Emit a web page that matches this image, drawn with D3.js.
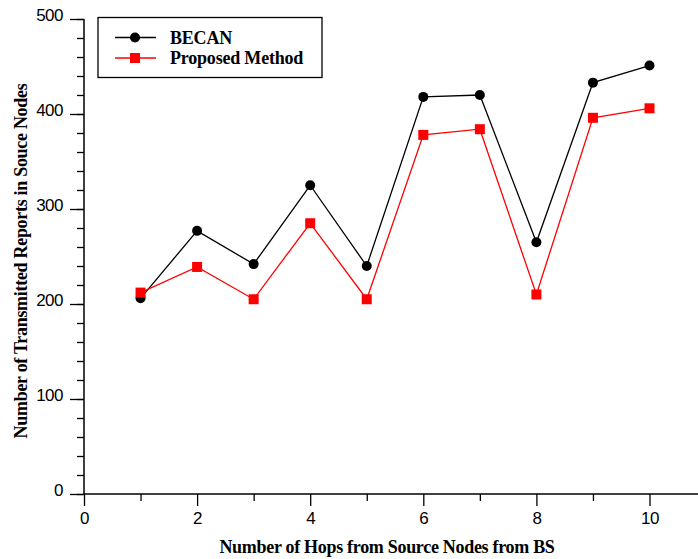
<!DOCTYPE html>
<html lang="en">
<head>
<meta charset="utf-8">
<script src="https://cdn.jsdelivr.net/npm/d3@7"></script>
<style>
  body { margin: 0; background: #fff; }
  svg { display: block; font-family: "Liberation Serif", "DejaVu Serif", serif; }
  .tick text { font-size: 17px; fill: #000; letter-spacing: -0.5px; }
  .axis-title { font-size: 18px; font-weight: bold; letter-spacing: -0.3px; }
  .legend text { font-size: 18px; font-weight: bold; letter-spacing: -0.2px; }
</style>
</head>
<body>
<script>
// data
var hops = [1, 2, 3, 4, 5, 6, 7, 8, 9, 10];
var becan = [206, 277, 242, 325, 240, 418, 420, 265, 433, 451];
var proposed = [212, 239, 205, 285, 205, 378, 384, 210, 396, 406];
var seriesNames = ["BECAN", "Proposed Method"];
var xTickVals = [0, 2, 4, 6, 8, 10];
var yTickVals = [0, 100, 200, 300, 400, 500];

var w = 698, h = 559;
var plotLeft = 84, plotBottom = 494, plotTop = 19;

var svg = d3.select("body").append("svg")
    .attr("width", w)
    .attr("height", h);

var x = d3.scaleLinear().domain([0, 10]).range([plotLeft, 649.5]);
var y = d3.scaleLinear().domain([0, 500]).range([plotBottom, plotTop]);

// x axis line runs to the right edge
svg.append("line")
    .attr("x1", plotLeft).attr("x2", w)
    .attr("y1", plotBottom).attr("y2", plotBottom)
    .attr("stroke", "#000").attr("stroke-width", 1.5);

// minor x ticks
svg.append("g")
    .attr("transform", "translate(0," + plotBottom + ")")
    .call(d3.axisBottom(x).tickValues(d3.range(1, 11, 2)).tickSize(7).tickFormat(""))
    .call(function(g) { g.select(".domain").remove(); })
    .selectAll("line").attr("stroke-width", 1.3);

var xAxis = svg.append("g")
    .attr("transform", "translate(0," + plotBottom + ")")
    .call(d3.axisBottom(x).tickValues(xTickVals).tickSize(12).tickPadding(6).tickFormat(d3.format("d")));
xAxis.select(".domain").remove();
xAxis.selectAll("line").attr("stroke-width", 1.3);

// y axis, minor ticks every 20
svg.append("g")
    .attr("transform", "translate(" + plotLeft + ",0)")
    .call(d3.axisLeft(y).tickValues(d3.range(0, 501, 20)).tickSize(7).tickFormat(""))
    .call(function(g) { g.select(".domain").remove(); })
    .selectAll("line").attr("stroke-width", 1.3);

var yAxis = svg.append("g")
    .attr("transform", "translate(" + plotLeft + ",0)")
    .call(d3.axisLeft(y).tickValues(yTickVals).tickSize(14).tickPadding(7).tickFormat(d3.format("d")));
yAxis.select(".domain").attr("stroke-width", 1.5).attr("d", "M0," + plotBottom + "V" + plotTop);
yAxis.selectAll("line").attr("stroke-width", 1.3);
yAxis.selectAll("text").attr("dy", "0.1em");

// axis titles
svg.append("text")
    .attr("class", "axis-title")
    .attr("x", 387).attr("y", 553)
    .attr("text-anchor", "middle")
    .text("Number of Hops from Source Nodes from BS");

svg.append("text")
    .attr("class", "axis-title")
    .attr("transform", "translate(27,261) rotate(-90)")
    .attr("text-anchor", "middle")
    .text("Number of Transmitted Reports in Souce Nodes");

// lines and markers
var line = d3.line()
    .x(function(d, i) { return x(hops[i]); })
    .y(function(d) { return y(d); });

svg.append("path").datum(becan)
    .attr("d", line).attr("fill", "none")
    .attr("stroke", "#000").attr("stroke-width", 1.3);

svg.append("path").datum(proposed)
    .attr("d", line).attr("fill", "none")
    .attr("stroke", "#f00").attr("stroke-width", 1.3);

svg.selectAll(".becan").data(becan).enter()
    .append("circle")
    .attr("cx", function(d, i) { return x(hops[i]); })
    .attr("cy", function(d) { return y(d); })
    .attr("r", 5)
    .attr("fill", "#000");

svg.selectAll(".prop").data(proposed).enter()
    .append("rect")
    .attr("x", function(d, i) { return x(hops[i]) - 5; })
    .attr("y", function(d) { return y(d) - 5; })
    .attr("width", 10).attr("height", 10)
    .attr("fill", "#f00");

// legend
var legend = svg.append("g").attr("class", "legend");
legend.append("rect")
    .attr("x", 98).attr("y", 17.5)
    .attr("width", 224).attr("height", 60)
    .attr("fill", "#fff").attr("stroke", "#000").attr("stroke-width", 1.3);

var rows = [
  { name: seriesNames[0], color: "#000", shape: "circle", y: 37.5 },
  { name: seriesNames[1], color: "#f00", shape: "square", y: 58 }
];
rows.forEach(function(r) {
  legend.append("line")
      .attr("x1", 115).attr("x2", 156)
      .attr("y1", r.y).attr("y2", r.y)
      .attr("stroke", r.color).attr("stroke-width", 1.3);
  if (r.shape === "circle") {
    legend.append("circle").attr("cx", 135).attr("cy", r.y).attr("r", 5).attr("fill", r.color);
  } else {
    legend.append("rect").attr("x", 130).attr("y", r.y - 5).attr("width", 10).attr("height", 10).attr("fill", r.color);
  }
  legend.append("text")
      .attr("x", 170).attr("y", r.y + 6)
      .text(r.name);
});
</script>
</body>
</html>
